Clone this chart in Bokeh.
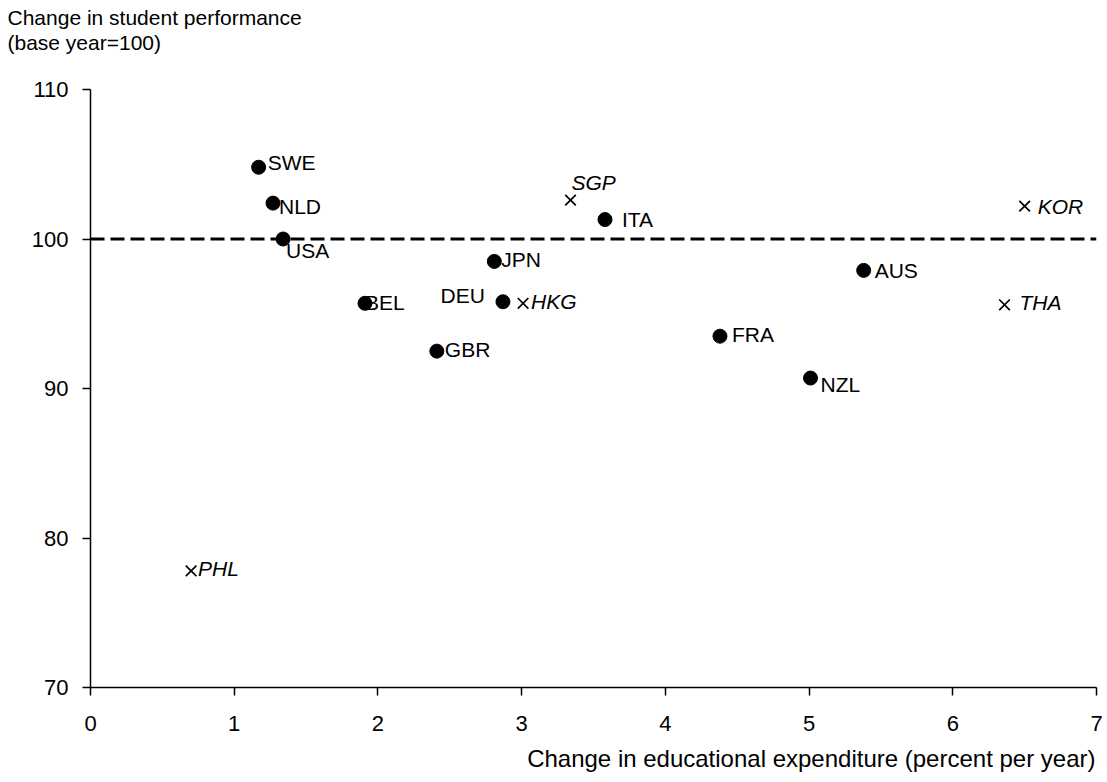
from bokeh.plotting import figure
from bokeh.models import Range1d, FixedTicker, Span, Title
from bokeh.core.properties import value
from bokeh.embed import file_html
from bokeh.resources import INLINE

# OECD countries (filled circles)
oecd_names = ["SWE", "NLD", "USA", "BEL", "DEU", "JPN", "GBR", "ITA", "AUS", "FRA", "NZL"]
oecd_expend = [1.17, 1.27, 1.34, 1.91, 2.87, 2.81, 2.41, 3.58, 5.38, 4.38, 5.01]
oecd_perf = [104.8, 102.4, 100.0, 95.7, 95.8, 98.5, 92.5, 101.3, 97.9, 93.5, 90.7]

# Partner economies (crosses, italic labels)
partner_names = ["SGP", "HKG", "KOR", "THA", "PHL"]
partner_expend = [3.34, 3.01, 6.50, 6.36, 0.70]
partner_perf = [102.6, 95.7, 102.2, 95.6, 77.8]

x_ticks = [0, 1, 2, 3, 4, 5, 6, 7]
y_ticks = [70, 80, 90, 100, 110]
base_year = 100

# label placement (screen px): dx, dy (down positive), align
oecd_dx = [9, 6, 3, 0, -18, 7, 8, 17, 11, 12, 10]
oecd_dy = [-5, 3, 11, -1, -6, -2, -2, 0, 0, -2, 6]
oecd_align = ["left"] * 4 + ["right"] + ["left"] * 6
partner_dx = [1, 8, 13, 15, 7]
partner_dy = [-18, -2, 0, -2, -2]

FONT = "Liberation Sans"
FS = "21px"
TICK_FS = "22px"

p = figure(width=1103, height=780, output_backend="svg", toolbar_location=None,
           x_range=Range1d(0, 7), y_range=Range1d(70, 110),
           min_border_left=90, min_border_right=7, min_border_top=89, min_border_bottom=91)
p.outline_line_color = None
p.grid.grid_line_color = None
p.background_fill_color = "white"
p.border_fill_color = "white"

for ax in (p.xaxis[0], p.yaxis[0]):
    ax.axis_line_color = "black"
    ax.axis_line_width = 1.5
    ax.major_tick_line_color = "black"
    ax.major_tick_line_width = 1.5
    ax.major_tick_in = 0
    ax.major_tick_out = 8
    ax.minor_tick_line_color = None
    ax.major_label_text_font = FONT
    ax.major_label_text_font_size = TICK_FS
    ax.major_label_text_color = "black"
p.xaxis[0].ticker = FixedTicker(ticks=x_ticks)
p.yaxis[0].ticker = FixedTicker(ticks=y_ticks)
p.xaxis[0].major_label_standoff = 20
p.yaxis[0].major_label_standoff = 14

p.add_layout(Span(location=base_year, dimension="width", line_color="black",
                  line_width=3, line_dash="14 6"))

p.scatter(oecd_expend, oecd_perf, marker="circle", size=14, fill_color="black", line_color="black")
p.scatter(partner_expend, partner_perf, marker="x", size=15, line_color="black", line_width=1.7)

for i, n in enumerate(oecd_names):
    p.text(x=[oecd_expend[i]], y=[oecd_perf[i]], text=[n], x_offset=oecd_dx[i], y_offset=oecd_dy[i],
           text_align=oecd_align[i], text_baseline="middle", text_font=value(FONT),
           text_font_size=FS, text_color="black")
for i, n in enumerate(partner_names):
    p.text(x=[partner_expend[i]], y=[partner_perf[i]], text=[n], x_offset=partner_dx[i], y_offset=partner_dy[i],
           text_align="left", text_baseline="middle", text_font=value(FONT),
           text_font_size=FS, text_font_style="italic", text_color="black")

# y-axis title (two lines, top-left); panels stack outward from the frame
p.add_layout(Title(text=" ", text_font_size="2px", standoff=32), "above")
p.add_layout(Title(text="(base year=100)", align="left", offset=-83, standoff=0,
                   text_font=FONT, text_font_size=FS, text_font_style="normal",
                   text_color="black"), "above")
p.add_layout(Title(text="Change in student performance", align="left", offset=-83, standoff=0,
                   text_font=FONT, text_font_size=FS, text_font_style="normal",
                   text_color="black"), "above")
# x-axis title (bottom right)
p.add_layout(Title(text="Change in educational expenditure (percent per year)", align="right",
                   offset=1, standoff=18, text_font=FONT, text_font_size="24px",
                   text_font_style="normal", text_color="black"), "below")

open("out.html", "w").write(file_html(p, INLINE))
